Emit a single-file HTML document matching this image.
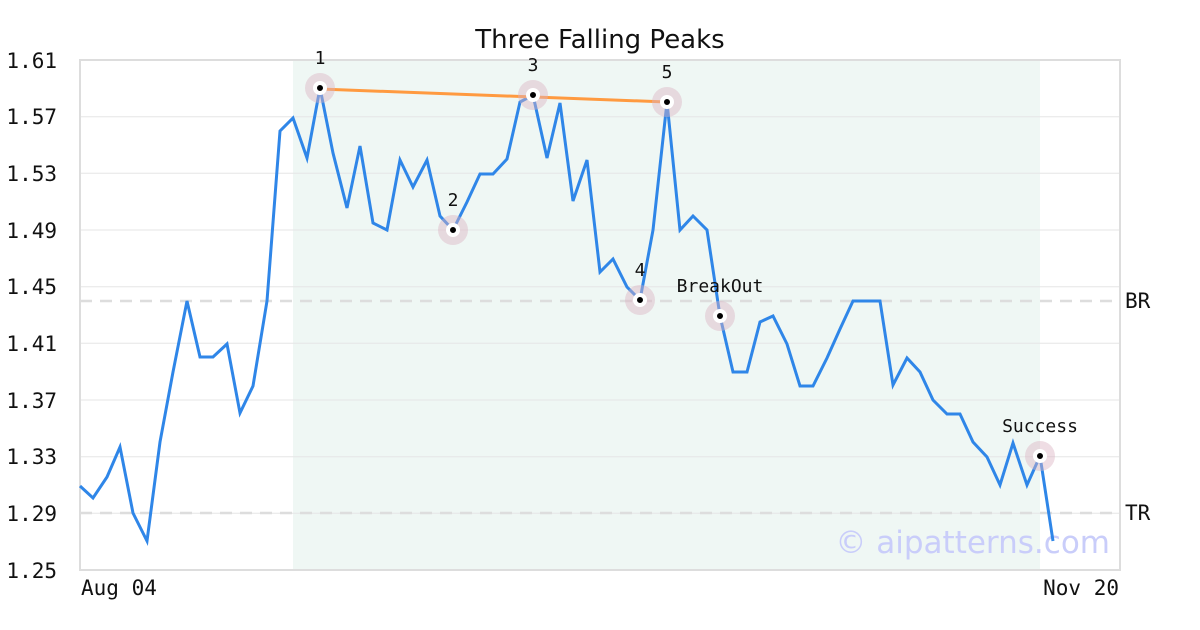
<!DOCTYPE html>
<html><head><meta charset="utf-8"><style>body{margin:0;background:#fff}svg{display:block}</style></head>
<body>
<svg width="1200" height="630" xmlns="http://www.w3.org/2000/svg" font-family="DejaVu Sans Mono, Liberation Mono, monospace">
<rect width="1200" height="630" fill="#fff"/>
<rect x="293" y="60" width="747" height="510" fill="#eff7f4"/>
<g stroke="#e6e6e6" stroke-width="1">
<line x1="80" x2="1120" y1="116.7" y2="116.7"/><line x1="80" x2="1120" y1="173.3" y2="173.3"/>
<line x1="80" x2="1120" y1="230" y2="230"/><line x1="80" x2="1120" y1="286.7" y2="286.7"/>
<line x1="80" x2="1120" y1="343.3" y2="343.3"/><line x1="80" x2="1120" y1="400" y2="400"/>
<line x1="80" x2="1120" y1="456.7" y2="456.7"/><line x1="80" x2="1120" y1="513.3" y2="513.3"/>
</g>
<g stroke="#dddddd" stroke-width="2.5" stroke-dasharray="12,8">
<line x1="80" x2="1120" y1="301" y2="301"/><line x1="80" x2="1120" y1="513" y2="513"/>
</g>
<rect x="80" y="60" width="1040" height="510" fill="none" stroke="#dddddd" stroke-width="2"/>
<text x="1110" y="553" font-family="DejaVu Sans, Liberation Sans, sans-serif" font-size="31" fill="#c9cdfa" text-anchor="end">© aipatterns.com</text>
<polyline fill="none" stroke="#2f86e8" stroke-width="3" stroke-linejoin="miter" points="80,486 93,498 107,477 120,447 133,513 147,541 160,442 173,372 187,301 200,357 213,357 227,344 240,413 253,386 267,301 280,131 293,118 307,158 320,88 333,153 347,208 360,146 373,223 387,230 400,160 413,187 427,160 440,216 453,230 467,202 480,174 493,174 507,159 520,102 533,95 547,158 560,103 573,201 587,160 600,272 613,259 627,287 640,300 653,230 667,102 680,230 693,216 707,230 720,316 733,372 747,372 760,322 773,316 787,344 800,386 813,386 827,358 840,329 853,301 867,301 880,301 893,385 907,358 920,372 933,400 947,414 960,414 973,442 987,457 1000,485 1013,443 1027,485 1040,456 1053,541"/>
<line x1="320" y1="89" x2="667" y2="102" stroke="#ff9a40" stroke-width="3"/>
<g>
<g fill="rgba(220,180,195,0.45)">
<circle cx="320" cy="88" r="15"/><circle cx="453" cy="230" r="15"/><circle cx="533" cy="95" r="15"/><circle cx="640" cy="300" r="15"/><circle cx="667" cy="102" r="15"/><circle cx="720" cy="316" r="15"/><circle cx="1040" cy="456" r="15"/>
</g>
<g fill="#000" stroke="#fff" stroke-width="4">
<circle cx="320" cy="88" r="5"/><circle cx="453" cy="230" r="5"/><circle cx="533" cy="95" r="5"/><circle cx="640" cy="300" r="5"/><circle cx="667" cy="102" r="5"/><circle cx="720" cy="316" r="5"/><circle cx="1040" cy="456" r="5"/>
</g>
</g>
<g font-size="18" fill="#111" text-anchor="middle">
<text x="320" y="64">1</text><text x="453" y="206">2</text><text x="533" y="71">3</text><text x="640" y="276">4</text><text x="667" y="78">5</text>
<text x="720" y="292">BreakOut</text><text x="1040" y="432">Success</text>
</g>
<g font-size="21" fill="#111" text-anchor="end">
<text x="57" y="68">1.61</text><text x="57" y="124">1.57</text><text x="57" y="181">1.53</text><text x="57" y="238">1.49</text><text x="57" y="294">1.45</text><text x="57" y="351">1.41</text><text x="57" y="408">1.37</text><text x="57" y="464">1.33</text><text x="57" y="521">1.29</text><text x="57" y="578">1.25</text>
</g>
<text x="1125" y="308" font-size="21" fill="#111">BR</text>
<text x="1125" y="520" font-size="21" fill="#111">TR</text>
<text x="81" y="595" font-size="21" fill="#111">Aug 04</text>
<text x="1119" y="595" font-size="21" fill="#111" text-anchor="end">Nov 20</text>
<text x="600" y="48" font-family="DejaVu Sans, Liberation Sans, sans-serif" font-size="26" fill="#111" text-anchor="middle">Three Falling Peaks</text>
</svg>
</body></html>
